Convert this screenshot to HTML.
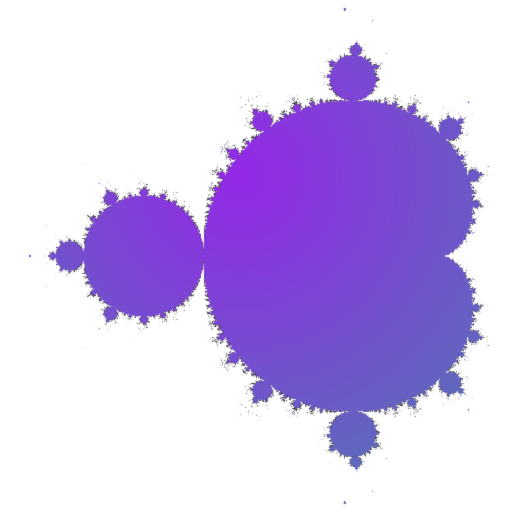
<!DOCTYPE html>
<html><head><meta charset="utf-8">
<style>
html,body{margin:0;padding:0;background:#fff;width:512px;height:512px;overflow:hidden}
canvas{display:block}
</style></head>
<body>
<div style="width:512px;height:512px">
<canvas id="c" width="512" height="512"></canvas>
</div>
<script>
// view parameters
const viewCenter = [-0.531, 0.0];
const viewScale = [239];
const maxIterations = [300];
const colorStart = [148, 40, 232];
const colorEnd = [92, 108, 186];

const cv = document.getElementById('c');
const ctx = cv.getContext('2d');
const W = 512, H = 512;
const img = ctx.createImageData(W, H);
const d = img.data;
const s = viewScale[0], maxIt = maxIterations[0];
function xToRe(px){ return viewCenter[0] + (px + 0.5 - W/2) / s; }
function yToIm(py){ return viewCenter[1] - (py + 0.5 - H/2) / s; }
for (let py = 0; py < H; py++) {
  const ci = yToIm(py);
  for (let px = 0; px < W; px++) {
    const cr = xToRe(px);
    let zr = 0, zi = 0, n = 0;
    while (n < maxIt && zr*zr + zi*zi <= 4) {
      const t = zr*zr - zi*zi + cr;
      zi = 2*zr*zi + ci;
      zr = t;
      n++;
    }
    const k = (py*W + px)*4;
    let r = 255, g = 255, b = 255;
    if (n >= maxIt) {
      const dx = px - 240, dy = py - 175;
      let t = Math.sqrt(dx*dx + dy*dy) / 330;
      t = Math.min(1, Math.max(0, t));
      r = colorStart[0] + (colorEnd[0]-colorStart[0])*t;
      g = colorStart[1] + (colorEnd[1]-colorStart[1])*t;
      b = colorStart[2] + (colorEnd[2]-colorStart[2])*t;
    } else if (n > 45) {
      const a = Math.min(1, (n - 45) / 80);
      const v = 255 - 190*a;
      r = g = b = v;
    }
    d[k] = r; d[k+1] = g; d[k+2] = b; d[k+3] = 255;
  }
}
ctx.putImageData(img, 0, 0);
</script>
</body></html>
